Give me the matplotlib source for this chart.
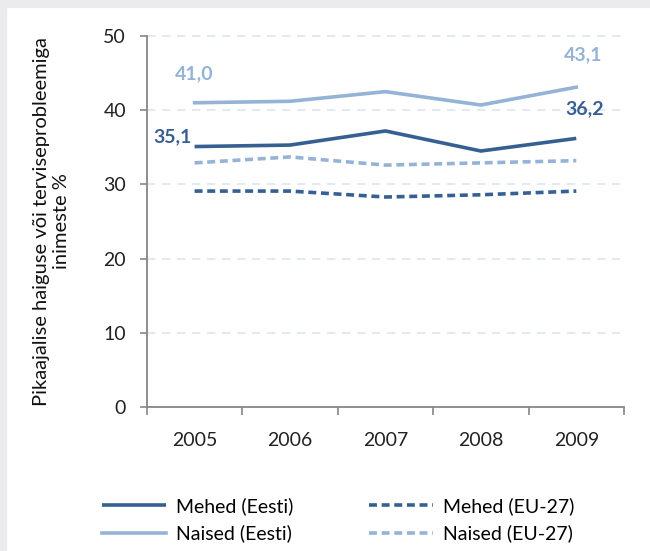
import matplotlib as mp
mp.use('Agg')
import matplotlib.pyplot as plt
import numpy as np

years = ['2005', '2006', '2007', '2008', '2009']
mehed_eesti = [35.1, 35.3, 37.2, 34.5, 36.2]
naised_eesti = [41.0, 41.2, 42.5, 40.7, 43.1]
mehed_eu = [29.1, 29.1, 28.3, 28.6, 29.1]
naised_eu = [32.9, 33.7, 32.6, 32.9, 33.2]

dark = '#376092'
light = '#95b3d7'
grey = '#868686'

plt.rcParams['font.family'] = ['Lato', 'DejaVu Sans']

fig = plt.figure(figsize=(6.5, 5.51), dpi=100)
fig.patch.set_facecolor('white')
# grey frame strips on top and left
fig.patches.append(plt.Rectangle((0, 1 - 7/551), 1, 7/551, transform=fig.transFigure,
                                 color='#ebebed', zorder=0))
fig.patches.append(plt.Rectangle((0, 0), 6/650, 1, transform=fig.transFigure,
                                 color='#ebebed', zorder=0))

ax = fig.add_axes([0.226, 0.2613, 0.734, 0.6734])
x = np.arange(len(years))

l1, = ax.plot(x, mehed_eesti, color=dark, lw=2.6, solid_capstyle='butt')
l2, = ax.plot(x, mehed_eu, color=dark, lw=2.6, ls=(0, (2.2, 1.3)))
l3, = ax.plot(x, naised_eesti, color=light, lw=2.6)
l4, = ax.plot(x, naised_eu, color=light, lw=2.6, ls=(0, (2.2, 1.3)))

def fmt(v):
    return ('%.1f' % v).replace('.', ',')

kw = dict(textcoords='offset points', fontsize=14, fontweight='bold')
ax.annotate(fmt(naised_eesti[0]), (x[0], naised_eesti[0]), xytext=(0, 21),
            color=light, ha='center', va='center', **kw)
ax.annotate(fmt(naised_eesti[-1]), (x[-1], naised_eesti[-1]), xytext=(5, 23),
            color=light, ha='center', va='center', **kw)
ax.annotate(fmt(mehed_eesti[0]), (x[0], mehed_eesti[0]), xytext=(-2, 7),
            color=dark, ha='right', va='center', **kw)
ax.annotate(fmt(mehed_eesti[-1]), (x[-1], mehed_eesti[-1]), xytext=(6, 21),
            color=dark, ha='center', va='center', **kw)

ax.set_xlim(-0.5, 4.5)
ax.set_ylim(0, 50)
ax.set_yticks(range(0, 51, 10))
ax.set_xticks(x)
ax.set_xticklabels(years)
ax.set_xticks(np.arange(-0.5, 5, 1), minor=True)
ax.tick_params(axis='x', which='major', length=0, pad=18, labelsize=14, colors='#222222')
ax.tick_params(axis='x', which='minor', length=6, color=grey, width=1.2)
ax.tick_params(axis='y', length=5, color=grey, width=1.2, pad=10, labelsize=14,
               labelcolor='#222222')
for s in ['top', 'right']:
    ax.spines[s].set_visible(False)
for s in ['left', 'bottom']:
    ax.spines[s].set_color(grey)
    ax.spines[s].set_linewidth(1.3)
for v in range(10, 51, 10):
    ax.axhline(v, color='#dce6f2', lw=1.2, ls=(0, (5, 4)), zorder=0, clip_on=False)

ax.set_ylabel('Pikaajalise haiguse või terviseprobleemiga\ninimeste %', fontsize=14.5,
              labelpad=24, color='#111111', linespacing=1.2)

fig.legend([l1, l3, l2, l4], ['Mehed (Eesti)', 'Naised (Eesti)', 'Mehed (EU-27)', 'Naised (EU-27)'],
           loc='lower left', bbox_to_anchor=(0.13, -0.016), ncol=2, frameon=False,
           fontsize=14, handlelength=3.3, columnspacing=3.9, labelspacing=0.5,
           handletextpad=0.5)

fig.savefig('out.png', dpi=100)
